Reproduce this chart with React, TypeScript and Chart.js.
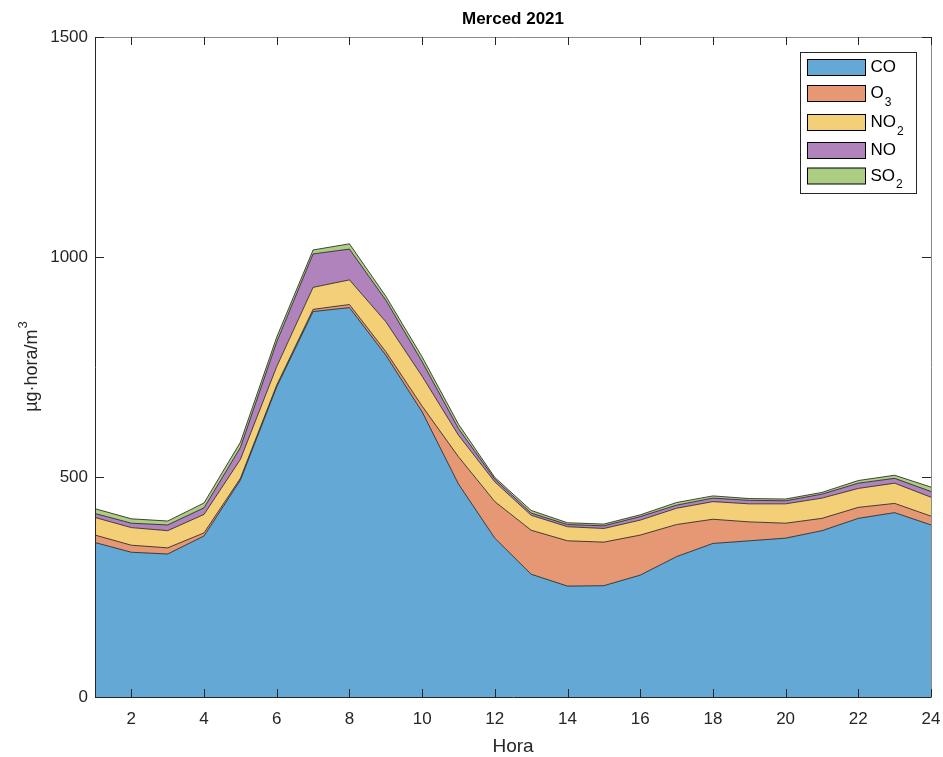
import React, { useEffect, useRef } from "react";
import { Chart, registerables } from "chart.js";

Chart.register(...registerables);

const hours = [1, 2, 3, 4, 5, 6, 7, 8, 9, 10, 11, 12, 13, 14, 15, 16, 17, 18, 19, 20, 21, 22, 23, 24];
const coValues = [351, 329, 325, 366, 493, 705, 876, 885, 777, 648, 484, 361, 279, 252, 253, 277, 319, 349, 355, 361, 378, 406, 419, 391];
const o3Values = [17, 16, 14, 7, 4, 4, 5, 7, 8, 13, 62, 83, 100, 103, 99, 91, 73, 55, 43, 34, 28, 25, 21, 20];
const no2Values = [40, 40, 39, 42, 43, 42, 50, 56, 68, 68, 49, 45, 34, 32, 31, 34, 37, 40, 41, 44, 46, 43, 46, 43];
const noValues = [9, 10, 13, 15, 27, 56, 76, 70, 49, 33, 15, 6, 5, 5, 6, 8, 7, 8, 8, 7, 9, 12, 11, 13];
const so2Values = [11, 10, 9, 11, 12, 11, 9, 12, 9, 11, 10, 4, 6, 4, 4, 4, 6, 5, 4, 4, 4, 6, 7, 10];
const xTicks = [2, 4, 6, 8, 10, 12, 14, 16, 18, 20, 22, 24];
const yTicks = [0, 500, 1000, 1500];

const seriesNames = ["CO", "O3", "NO2", "NO", "SO2"];
const legendMain = ["CO", "O", "NO", "NO", "SO"];
const legendSub = ["", "3", "2", "", "2"];
const seriesColors = ["#64a9d6", "#e69774", "#f3cf78", "#b083bc", "#abce83"];
const allValues = [coValues, o3Values, no2Values, noValues, so2Values];

const FONT = "'Liberation Sans', Arial, Helvetica, sans-serif";
const TXT = "#262626";

const decorPlugin = {
  id: "decor",
  afterDraw(chart: any) {
    const ctx = chart.ctx;
    const { left, right, top, bottom } = chart.chartArea;
    const xs = chart.scales.x;
    const ys = chart.scales.y;
    ctx.save();
    // axes box
    ctx.strokeStyle = "#262626";
    ctx.lineWidth = 1;
    ctx.beginPath();
    ctx.moveTo(left + 0.5, top + 0.5);
    ctx.lineTo(left + 0.5, bottom + 0.5);
    ctx.lineTo(right + 0.5, bottom + 0.5);
    ctx.stroke();
    ctx.strokeStyle = "#8a8a8a";
    ctx.beginPath();
    ctx.moveTo(left + 0.5, top + 0.5);
    ctx.lineTo(right + 0.5, top + 0.5);
    ctx.lineTo(right + 0.5, bottom + 0.5);
    ctx.stroke();
    // inward ticks
    ctx.strokeStyle = "#262626";
    ctx.beginPath();
    xTicks.forEach((v) => {
      const px = Math.round(xs.getPixelForValue(v)) + 0.5;
      ctx.moveTo(px, bottom);
      ctx.lineTo(px, bottom - 8);
      ctx.moveTo(px, top);
      ctx.lineTo(px, top + 8);
    });
    yTicks.forEach((v) => {
      const py = Math.round(ys.getPixelForValue(v)) + 0.5;
      ctx.moveTo(left, py);
      ctx.lineTo(left + 9, py);
      ctx.moveTo(right, py);
      ctx.lineTo(right - 9, py);
    });
    ctx.stroke();
    // title
    ctx.fillStyle = "#000";
    ctx.font = `bold 17px ${FONT}`;
    ctx.textAlign = "center";
    ctx.textBaseline = "middle";
    ctx.fillText("Merced 2021", (left + right) / 2, 19);
    // x label
    ctx.fillStyle = TXT;
    ctx.font = `19px ${FONT}`;
    ctx.fillText("Hora", (left + right) / 2, 747);
    // y label
    ctx.save();
    ctx.translate(32, (top + bottom) / 2);
    ctx.rotate(-Math.PI / 2);
    ctx.font = `18px ${FONT}`;
    const mainTxt = "µg·hora/m";
    const w1 = ctx.measureText(mainTxt).width;
    ctx.font = `13px ${FONT}`;
    const w2 = ctx.measureText("3").width;
    const startX = -(w1 + w2) / 2;
    ctx.textAlign = "left";
    ctx.font = `18px ${FONT}`;
    ctx.fillText(mainTxt, startX, 0);
    ctx.font = `13px ${FONT}`;
    ctx.fillText("3", startX + w1 + 1, -9);
    ctx.restore();
    // legend
    const bx = 800, by = 52, bw = 116, bh = 141;
    ctx.fillStyle = "#fff";
    ctx.fillRect(bx, by, bw, bh);
    ctx.strokeStyle = "#262626";
    ctx.lineWidth = 1;
    ctx.strokeRect(bx + 0.5, by + 0.5, bw, bh);
    const rowY = [67.5, 93.5, 122.5, 150.5, 176];
    ctx.textAlign = "left";
    ctx.textBaseline = "middle";
    seriesNames.forEach((_, i) => {
      const cy = rowY[i];
      ctx.fillStyle = seriesColors[i];
      ctx.fillRect(807.5, cy - 8, 58, 16);
      ctx.strokeStyle = "#000";
      ctx.strokeRect(807.5, cy - 8, 58, 16);
      ctx.fillStyle = "#000";
      ctx.font = `17px ${FONT}`;
      ctx.fillText(legendMain[i], 870.5, cy);
      if (legendSub[i]) {
        const w = ctx.measureText(legendMain[i]).width;
        ctx.font = `12px ${FONT}`;
        ctx.fillText(legendSub[i], 870.5 + w + 1, cy + 9);
      }
    });
    ctx.restore();
  },
};

export default function App() {
  const ref = useRef<HTMLCanvasElement | null>(null);
  useEffect(() => {
    document.body.style.margin = "0";
    const canvas = ref.current!;
    const datasets = allValues.map((vals, i) => ({
      label: seriesNames[i],
      data: hours.map((h, j) => ({ x: h, y: vals[j] })),
      backgroundColor: seriesColors[i],
      borderColor: "#1a1a1a",
      borderWidth: 0.8,
      pointRadius: 0,
      fill: i === 0 ? "origin" : "-1",
      tension: 0,
    }));
    const chart = new Chart(canvas, {
      type: "line",
      data: { datasets },
      options: {
        animation: false,
        responsive: false,
        maintainAspectRatio: false,
        layout: { padding: { left: 0, right: 12, top: 37, bottom: 0 } },
        plugins: { legend: { display: false }, title: { display: false }, tooltip: { enabled: false } },
        scales: {
          x: {
            type: "linear",
            min: 1,
            max: 24,
            grid: { display: false, drawTicks: false },
            border: { display: false },
            afterBuildTicks: (s: any) => {
              s.ticks = xTicks.map((v) => ({ value: v }));
            },
            afterFit: (s: any) => {
              s.height = 60;
              s.paddingLeft = 0;
              s.paddingRight = 0;
            },
            ticks: { color: TXT, font: { family: FONT, size: 17 }, padding: 12, maxRotation: 0, autoSkip: false, callback: (v: any) => String(v) },
          },
          y: {
            type: "linear",
            stacked: true,
            min: 0,
            max: 1500,
            grid: { display: false, drawTicks: false },
            border: { display: false },
            afterBuildTicks: (s: any) => {
              s.ticks = yTicks.map((v) => ({ value: v }));
            },
            afterFit: (s: any) => {
              s.width = 95;
              s.paddingTop = 0;
              s.paddingBottom = 0;
            },
            ticks: { color: TXT, font: { family: FONT, size: 17 }, padding: 7, callback: (v: any) => String(v) },
          },
        },
      },
      plugins: [decorPlugin],
    } as any);
    return () => chart.destroy();
  }, []);
  return <canvas ref={ref} width={943} height={757} style={{ display: "block" }} />;
}
